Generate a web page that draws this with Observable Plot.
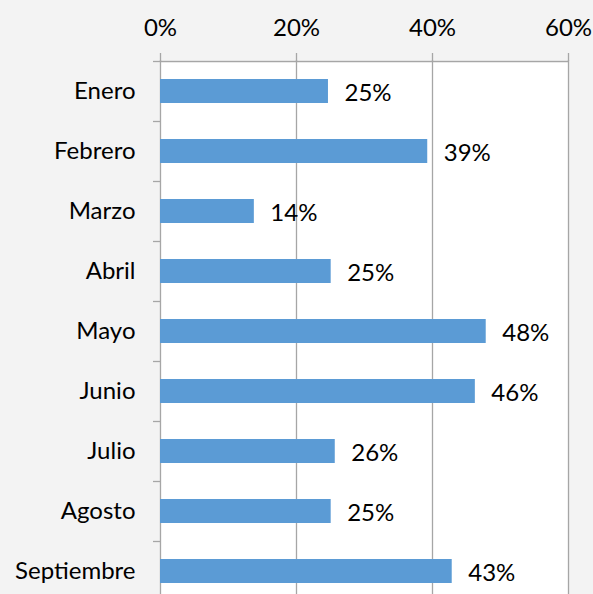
<!DOCTYPE html>
<html><head><meta charset="utf-8">
<script src="https://cdn.jsdelivr.net/npm/d3@7"></script>
<script src="https://cdn.jsdelivr.net/npm/@observablehq/plot@0.6"></script>
<style>
html,body{margin:0;padding:0;background:#f3f3f3;}
#chart svg{display:block;}
</style></head>
<body><div id="chart"></div>
<script>
const months = ["Enero","Febrero","Marzo","Abril","Mayo","Junio","Julio","Agosto","Septiembre"];
const values = [24.7, 39.3, 13.8, 25.1, 47.9, 46.3, 25.7, 25.1, 42.9];
const xTicks = [0, 20, 40, 60];
const data = months.map((m, i) => ({month: m, value: values[i]}));

const chart = Plot.plot({
  width: 593,
  height: 594,
  marginLeft: 160,
  marginRight: 25,
  marginTop: 60,
  marginBottom: -7,
  style: {fontFamily: "Lato, sans-serif", fontSize: "24px", color: "#000", background: "#f3f3f3"},
  x: {domain: [0, 60], ticks: xTicks, tickFormat: d => d + "%", label: null, axis: null},
  y: {domain: months, paddingInner: 0.6, paddingOuter: 0.3, label: null, axis: null},
  marks: [
    Plot.frame({fill: "white", stroke: null}),
    Plot.gridX(xTicks, {stroke: "#a6a6a6", strokeOpacity: 1, strokeWidth: 1.3}),
    Plot.axisX(xTicks, {anchor: "top", tickSize: 8, tickPadding: 17, stroke: "#a6a6a6", strokeWidth: 1.3, tickFormat: d => d + "%", fill: "#000", fontSize: 24, label: null}),
    Plot.ruleY([months[0]], {x1: 0, x2: 60, dy: -30, stroke: "#a6a6a6", strokeWidth: 1.3}),
    Plot.axisY({anchor: "left", tickSize: 7, text: null, dy: -30, stroke: "#a6a6a6", strokeWidth: 1.3, label: null}),
    Plot.axisY({anchor: "left", tickSize: 0, tickPadding: 25, fill: "#000", fontSize: 24, label: null}),
    Plot.barX(data, {y: "month", x: "value", fill: "#5b9bd5"}),
    Plot.text(data, {y: "month", x: "value", text: d => Math.round(d.value) + "%", textAnchor: "start", dx: 16, dy: 2, fill: "#000", fontSize: 24})
  ]
});
document.getElementById("chart").append(chart);
</script></body></html>
